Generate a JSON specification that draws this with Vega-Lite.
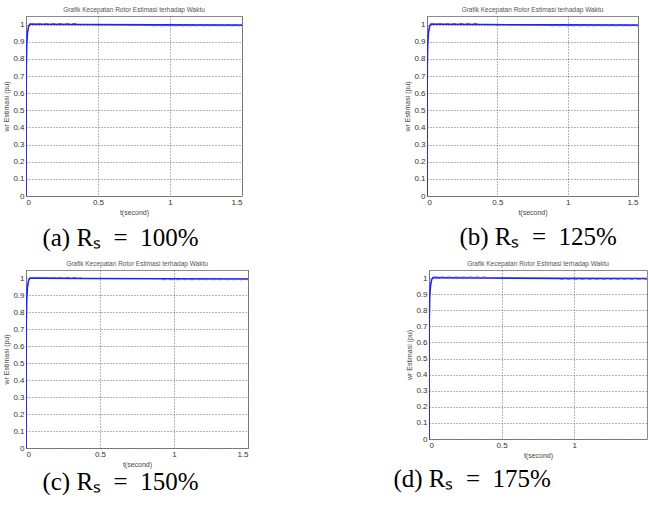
{
  "$schema": "https://vega.github.io/schema/vega-lite/v6.json",
  "padding": {"left": 2, "top": 6, "right": 0, "bottom": 0},
  "background": "white",
  "config": {
    "font": "Liberation Sans",
    "view": {"stroke": "#8c8c8c", "strokeWidth": 1},
    "axis": {
      "labelFont": "Liberation Sans", "labelFontSize": 8, "labelColor": "#333333", "format": "~g",
      "titleFont": "Liberation Sans", "titleFontSize": 7, "titleFontWeight": "normal", "titleColor": "#444444",
      "grid": true, "gridColor": "#444444", "gridDash": [1, 2], "gridWidth": 0.8, "gridOpacity": 1,
      "domain": false, "ticks": false, "labelPadding": 2
    },
    "title": {"font": "Liberation Sans", "fontSize": 6.5, "fontWeight": "normal", "color": "#555555", "offset": 3},
    "concat": {"spacing": 0}
  },
  "datasets": {
    "speed": [
      {"panel": "a", "seg": "main", "t": 0, "w": 0},
      {"panel": "a", "seg": "main", "t": 0.0005, "w": 0.5},
      {"panel": "a", "seg": "main", "t": 0.002, "w": 0.75},
      {"panel": "a", "seg": "main", "t": 0.005, "w": 0.88},
      {"panel": "a", "seg": "main", "t": 0.01, "w": 0.95},
      {"panel": "a", "seg": "main", "t": 0.018, "w": 0.99},
      {"panel": "a", "seg": "main", "t": 0.028, "w": 1.003},
      {"panel": "a", "seg": "main", "t": 0.1, "w": 1.002},
      {"panel": "a", "seg": "main", "t": 0.4, "w": 1.0},
      {"panel": "a", "seg": "main", "t": 0.9, "w": 0.998},
      {"panel": "a", "seg": "main", "t": 1.5, "w": 0.997},
      {"panel": "a", "seg": "r1", "t": 0.03, "w": 1.006},
      {"panel": "a", "seg": "r1", "t": 0.36, "w": 1.006},
      {"panel": "a", "seg": "r2", "t": 0.88, "w": 0.993},
      {"panel": "a", "seg": "r2", "t": 1.5, "w": 0.993},
      {"panel": "b", "seg": "main", "t": 0, "w": 0},
      {"panel": "b", "seg": "main", "t": 0.0005, "w": 0.5},
      {"panel": "b", "seg": "main", "t": 0.002, "w": 0.75},
      {"panel": "b", "seg": "main", "t": 0.005, "w": 0.88},
      {"panel": "b", "seg": "main", "t": 0.01, "w": 0.95},
      {"panel": "b", "seg": "main", "t": 0.018, "w": 0.99},
      {"panel": "b", "seg": "main", "t": 0.028, "w": 1.003},
      {"panel": "b", "seg": "main", "t": 0.1, "w": 1.002},
      {"panel": "b", "seg": "main", "t": 0.4, "w": 1.0},
      {"panel": "b", "seg": "main", "t": 0.9, "w": 0.998},
      {"panel": "b", "seg": "main", "t": 1.5, "w": 0.997},
      {"panel": "b", "seg": "r1", "t": 0.03, "w": 1.006},
      {"panel": "b", "seg": "r1", "t": 0.37, "w": 1.006},
      {"panel": "b", "seg": "r2", "t": 0.88, "w": 0.993},
      {"panel": "b", "seg": "r2", "t": 1.5, "w": 0.993},
      {"panel": "c", "seg": "main", "t": 0, "w": 0},
      {"panel": "c", "seg": "main", "t": 0.0005, "w": 0.5},
      {"panel": "c", "seg": "main", "t": 0.002, "w": 0.75},
      {"panel": "c", "seg": "main", "t": 0.005, "w": 0.88},
      {"panel": "c", "seg": "main", "t": 0.01, "w": 0.95},
      {"panel": "c", "seg": "main", "t": 0.018, "w": 0.99},
      {"panel": "c", "seg": "main", "t": 0.028, "w": 1.003},
      {"panel": "c", "seg": "main", "t": 0.1, "w": 1.002},
      {"panel": "c", "seg": "main", "t": 0.4, "w": 1.0},
      {"panel": "c", "seg": "main", "t": 0.9, "w": 0.998},
      {"panel": "c", "seg": "main", "t": 1.5, "w": 0.997},
      {"panel": "c", "seg": "r1", "t": 0.03, "w": 1.006},
      {"panel": "c", "seg": "r1", "t": 0.37, "w": 1.006},
      {"panel": "c", "seg": "r2", "t": 0.92, "w": 0.993},
      {"panel": "c", "seg": "r2", "t": 1.5, "w": 0.993},
      {"panel": "d", "seg": "main", "t": 0, "w": 0},
      {"panel": "d", "seg": "main", "t": 0.0005, "w": 0.5},
      {"panel": "d", "seg": "main", "t": 0.002, "w": 0.75},
      {"panel": "d", "seg": "main", "t": 0.005, "w": 0.88},
      {"panel": "d", "seg": "main", "t": 0.01, "w": 0.95},
      {"panel": "d", "seg": "main", "t": 0.018, "w": 0.99},
      {"panel": "d", "seg": "main", "t": 0.028, "w": 1.003},
      {"panel": "d", "seg": "main", "t": 0.1, "w": 1.002},
      {"panel": "d", "seg": "main", "t": 0.4, "w": 1.0},
      {"panel": "d", "seg": "main", "t": 0.9, "w": 0.998},
      {"panel": "d", "seg": "main", "t": 1.5, "w": 0.997},
      {"panel": "d", "seg": "r1", "t": 0.03, "w": 1.006},
      {"panel": "d", "seg": "r1", "t": 0.4, "w": 1.006},
      {"panel": "d", "seg": "r2", "t": 0.9, "w": 0.993},
      {"panel": "d", "seg": "r2", "t": 1.5, "w": 0.993}
    ]
  },
  "vconcat": [
    {
      "hconcat": [
        {
          "vconcat": [
            {
              "title": "Grafik Kecepatan Rotor Estimasi terhadap Waktu",
              "width": 216, "height": 180,
              "data": {"name": "speed"},
              "transform": [{"filter": "datum.panel === 'a'"}],
              "encoding": {
                "x": {"field": "t", "type": "quantitative", "scale": {"domain": [0, 1.5], "nice": false}, "axis": {"values": [0, 0.5, 1, 1.5], "title": "t(second)", "titlePadding": 2}},
                "y": {"field": "w", "type": "quantitative", "scale": {"domain": [0, 1.05], "nice": false}, "axis": {"values": [0, 0.1, 0.2, 0.3, 0.4, 0.5, 0.6, 0.7, 0.8, 0.9, 1], "title": "wr Estimasi (pu)", "titlePadding": 3}},
                "detail": {"field": "seg"}
              },
              "layer": [
                {"transform": [{"filter": "datum.seg === 'main'"}], "mark": {"type": "line", "color": "#1f1fff", "strokeWidth": 1.6, "clip": true}},
                {"transform": [{"filter": "datum.seg !== 'main'"}], "mark": {"type": "line", "color": "#5a5aff", "strokeWidth": 1, "strokeDash": [4, 3], "clip": true}}
              ]
            }
          ],
          "title": {"text": "(a) R\u209b\u2002=\u2002100%", "orient": "bottom", "anchor": "start", "dx": 40, "font": "Liberation Serif", "fontSize": 25, "color": "#000000", "offset": 10}
        },
        {
          "vconcat": [
            {
              "title": "Grafik Kecepatan Rotor Estimasi terhadap Waktu",
              "width": 211, "height": 180,
              "data": {"name": "speed"},
              "transform": [{"filter": "datum.panel === 'b'"}],
              "encoding": {
                "x": {"field": "t", "type": "quantitative", "scale": {"domain": [0, 1.5], "nice": false}, "axis": {"values": [0, 0.5, 1, 1.5], "title": "t(second)", "titlePadding": 2}},
                "y": {"field": "w", "type": "quantitative", "scale": {"domain": [0, 1.05], "nice": false}, "axis": {"values": [0, 0.1, 0.2, 0.3, 0.4, 0.5, 0.6, 0.7, 0.8, 0.9, 1], "title": "wr Estimasi (pu)", "titlePadding": 3}},
                "detail": {"field": "seg"}
              },
              "layer": [
                {"transform": [{"filter": "datum.seg === 'main'"}], "mark": {"type": "line", "color": "#1f1fff", "strokeWidth": 1.6, "clip": true}},
                {"transform": [{"filter": "datum.seg !== 'main'"}], "mark": {"type": "line", "color": "#5a5aff", "strokeWidth": 1, "strokeDash": [4, 3], "clip": true}}
              ]
            }
          ],
          "title": {"text": "(b) R\u209b\u2002=\u2002125%", "orient": "bottom", "anchor": "start", "dx": 56, "font": "Liberation Serif", "fontSize": 25, "color": "#000000", "offset": 9}
        }
      ],
      "spacing": 160
    },
    {
      "hconcat": [
        {
          "vconcat": [
            {
              "title": "Grafik Kecepatan Rotor Estimasi terhadap Waktu",
              "width": 222, "height": 178,
              "data": {"name": "speed"},
              "transform": [{"filter": "datum.panel === 'c'"}],
              "encoding": {
                "x": {"field": "t", "type": "quantitative", "scale": {"domain": [0, 1.5], "nice": false}, "axis": {"values": [0, 0.5, 1, 1.5], "title": "t(second)", "titlePadding": 2}},
                "y": {"field": "w", "type": "quantitative", "scale": {"domain": [0, 1.05], "nice": false}, "axis": {"values": [0, 0.1, 0.2, 0.3, 0.4, 0.5, 0.6, 0.7, 0.8, 0.9, 1], "title": "wr Estimasi (pu)", "titlePadding": 3}},
                "detail": {"field": "seg"}
              },
              "layer": [
                {"transform": [{"filter": "datum.seg === 'main'"}], "mark": {"type": "line", "color": "#1f1fff", "strokeWidth": 1.6, "clip": true}},
                {"transform": [{"filter": "datum.seg !== 'main'"}], "mark": {"type": "line", "color": "#5a5aff", "strokeWidth": 1, "strokeDash": [4, 3], "clip": true}}
              ]
            }
          ],
          "title": {"text": "(c) R\u209b\u2002=\u2002150%", "orient": "bottom", "anchor": "start", "dx": 40, "font": "Liberation Serif", "fontSize": 25, "color": "#000000", "offset": 2}
        },
        {
          "vconcat": [
            {
              "title": "Grafik Kecepatan Rotor Estimasi terhadap Waktu",
              "width": 218, "height": 169,
              "data": {"name": "speed"},
              "transform": [{"filter": "datum.panel === 'd'"}],
              "encoding": {
                "x": {"field": "t", "type": "quantitative", "scale": {"domain": [0, 1.5], "nice": false}, "axis": {"values": [0, 0.5, 1], "title": "t(second)", "titlePadding": 2}},
                "y": {"field": "w", "type": "quantitative", "scale": {"domain": [0, 1.05], "nice": false}, "axis": {"values": [0, 0.1, 0.2, 0.3, 0.4, 0.5, 0.6, 0.7, 0.8, 0.9, 1], "title": "wr Estimasi (pu)", "titlePadding": 3}},
                "detail": {"field": "seg"}
              },
              "layer": [
                {"transform": [{"filter": "datum.seg === 'main'"}], "mark": {"type": "line", "color": "#1f1fff", "strokeWidth": 1.6, "clip": true}},
                {"transform": [{"filter": "datum.seg !== 'main'"}], "mark": {"type": "line", "color": "#5a5aff", "strokeWidth": 1, "strokeDash": [4, 3], "clip": true}}
              ]
            }
          ],
          "title": {"text": "(d) R\u209b\u2002=\u2002175%", "orient": "bottom", "anchor": "start", "dx": -12, "font": "Liberation Serif", "fontSize": 25, "color": "#000000", "offset": 8}
        }
      ],
      "spacing": 144
    }
  ],
  "spacing": 9
}
